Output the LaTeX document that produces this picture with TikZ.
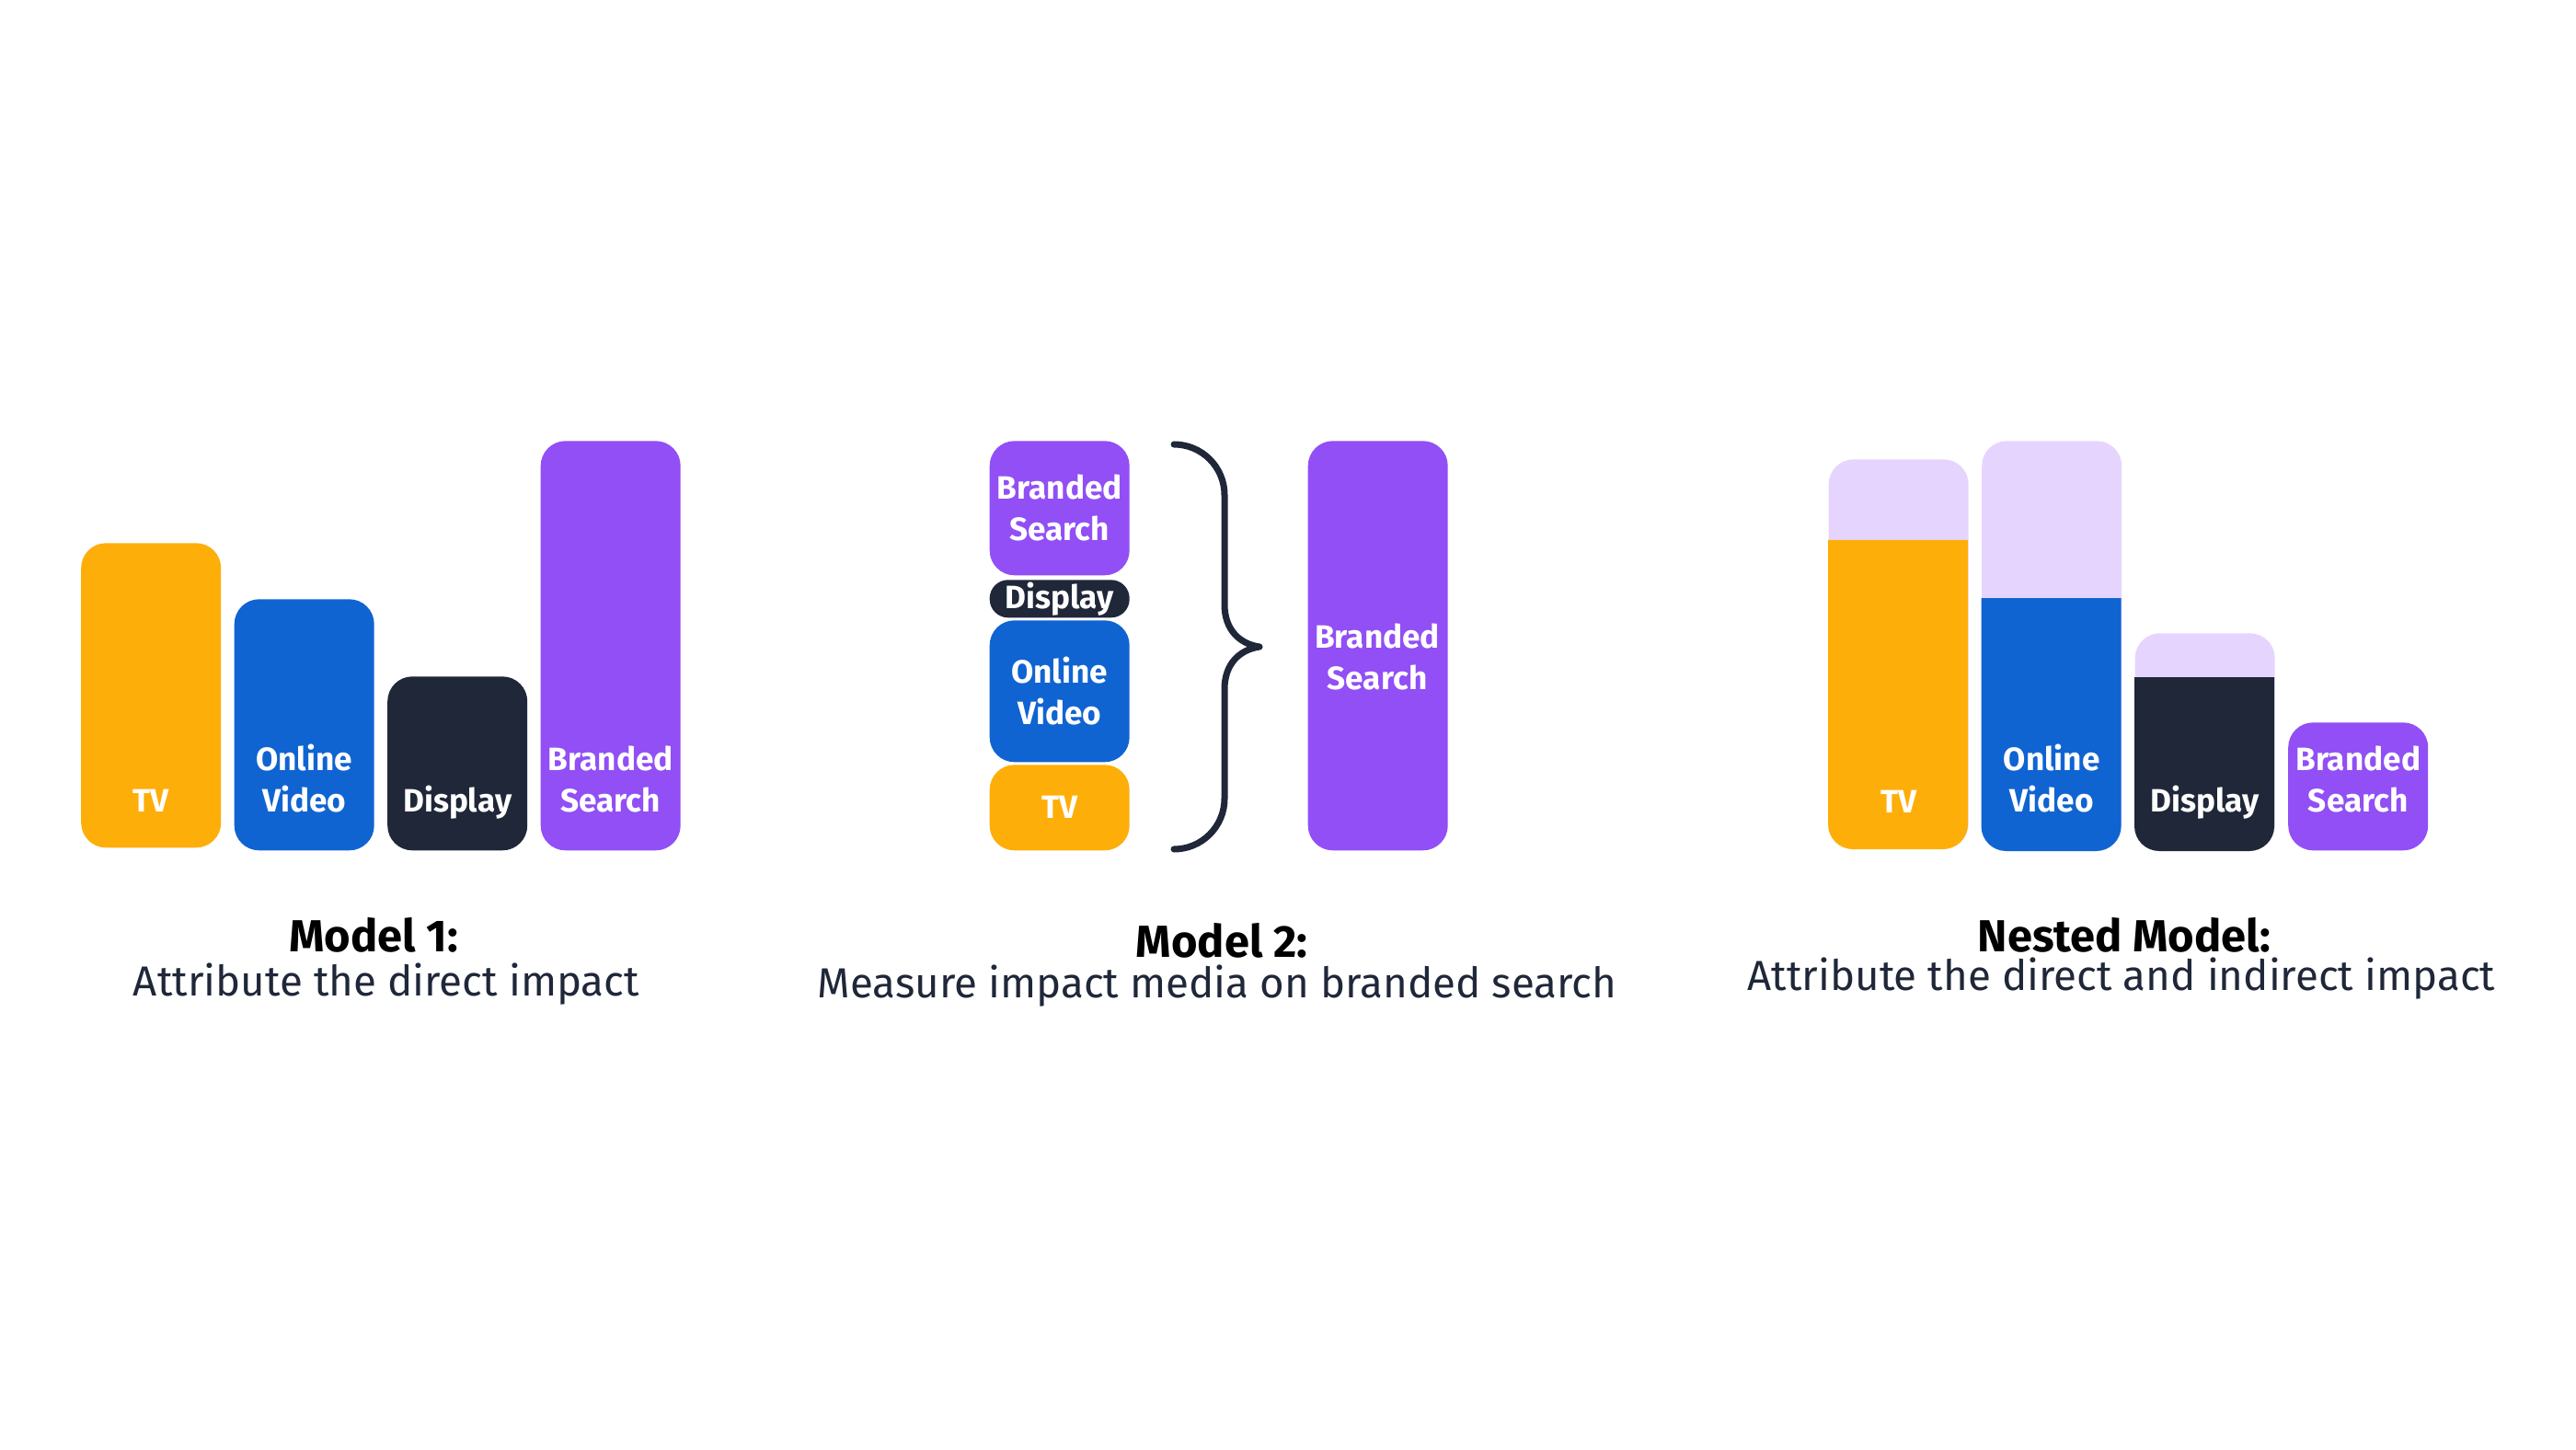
\documentclass[tikz,border=0pt]{standalone}
\usepackage{fontspec}
\setmainfont{Fira Sans}
\usetikzlibrary{positioning}
\definecolor{ink}{HTML}{1F2739}
\definecolor{tvorange}{HTML}{FEAE08}
\definecolor{videoblue}{HTML}{1064D1}
\definecolor{navy}{HTML}{1F2739}
\definecolor{brandpurple}{HTML}{914FF5}
\definecolor{lilac}{HTML}{E5D5FE}

\begin{document}
\begin{tikzpicture}[x=1cm,y=1cm,
 bar/.style={rounded corners=.27cm,inner sep=0pt,minimum width=1.52cm,anchor=south west,
  text=white,align=center,font=\bfseries\fontsize{10}{12.8}\selectfont},
 lbl/.style={text=white,font=\bfseries\fontsize{10}{12.8}\selectfont,align=center,
  inner sep=0pt,text depth=0pt},
 title/.style={font=\bfseries\fontsize{13.9}{16}\selectfont,text=black,inner sep=0pt,anchor=base},
 sub/.style={font=\fontsize{13}{15}\selectfont,text=ink,inner sep=0pt,anchor=base}]
\path[use as bounding box] (0,0) rectangle (28,15.75);
% model 1
\node[bar,fill=tvorange,minimum height=3.31cm] (tvA) at (0.875,6.53) {};
\node[bar,fill=videoblue,minimum height=2.73cm] (videoA) at (2.54,6.50) {};
\node[bar,fill=navy,minimum height=1.89cm] (displayA) at (4.205,6.50) {};
\node[bar,fill=brandpurple,minimum height=4.45cm] (searchA) at (5.87,6.50) {};
\node[lbl,above=.39cm of tvA.south] (tvAlbl) {TV};
\node[lbl,above=.42cm of videoA.south] (videoAlbl) {Online\\Video};
\node[lbl,above=.42cm of displayA.south] (displayAlbl) {Display};
\node[lbl,above=.42cm of searchA.south] (searchAlbl) {Branded\\Search};
\node[title] (titleA) at (4.06,5.41) {Model 1:};
\node[sub] (subA) at (4.20,4.93) {Attribute the direct impact};
% model 2
\node[bar,fill=brandpurple,minimum height=1.46cm] (searchB) at (10.75,9.49) {Branded\\Search};
\node[bar,fill=navy,minimum height=.41cm,rounded corners=.2cm] (displayB) at (10.75,9.03) {Display};
\node[bar,fill=videoblue,minimum height=1.54cm] (videoB) at (10.75,7.46) {Online\\Video};
\node[bar,fill=tvorange,minimum height=.93cm] (tvB) at (10.75,6.50) {TV};
\node[bar,fill=brandpurple,minimum height=4.45cm] (totalB) at (14.21,6.50) {};
\node[lbl] (totalBlbl) at (14.97,8.61) {Branded\\Search};
\draw[ink,line width=2pt,line cap=round,line join=round] (12.76,10.92) arc[start angle=90,end angle=0,radius=.55]
 -- (13.31,9.18) .. controls (13.31,8.9) and (13.48,8.75) .. (13.69,8.72)
 .. controls (13.48,8.69) and (13.31,8.54) .. (13.31,8.26)
 -- (13.31,7.07) arc[start angle=0,end angle=-90,radius=.55];
\node[title] (titleB) at (13.28,5.35) {Model 2:};
\node[sub] (subB) at (13.23,4.91) {Measure impact media on branded search};
% nested model
\node[bar,fill=lilac,minimum height=4.23cm] (tvC) at (19.87,6.52) {};
\node[bar,fill=lilac,minimum height=4.45cm] (videoC) at (21.535,6.50) {};
\node[bar,fill=lilac,minimum height=2.36cm] (displayC) at (23.2,6.50) {};
\node[bar,fill=brandpurple,minimum height=1.39cm] (searchC) at (24.865,6.50) {};
\foreach \x/\top/\bot/\col in {19.87/9.88/6.52/tvorange,21.535/9.25/6.50/videoblue,23.2/8.39/6.50/navy}{
 \fill[\col] (\x,\top) [rounded corners=.27cm] -- (\x,\bot) -- (\x+1.52,\bot) [sharp corners] -- (\x+1.52,\top) -- cycle;
}
\node[lbl,above=.39cm of tvC.south] (tvClbl) {TV};
\node[lbl,above=.42cm of videoC.south] (videoClbl) {Online\\Video};
\node[lbl,above=.42cm of displayC.south] (displayClbl) {Display};
\node[lbl,above=.42cm of searchC.south] (searchClbl) {Branded\\Search};
\node[title] (titleC) at (23.09,5.41) {Nested Model:};
\node[sub] (subC) at (23.06,4.99) {Attribute the direct and indirect impact};
\end{tikzpicture}
\end{document}
